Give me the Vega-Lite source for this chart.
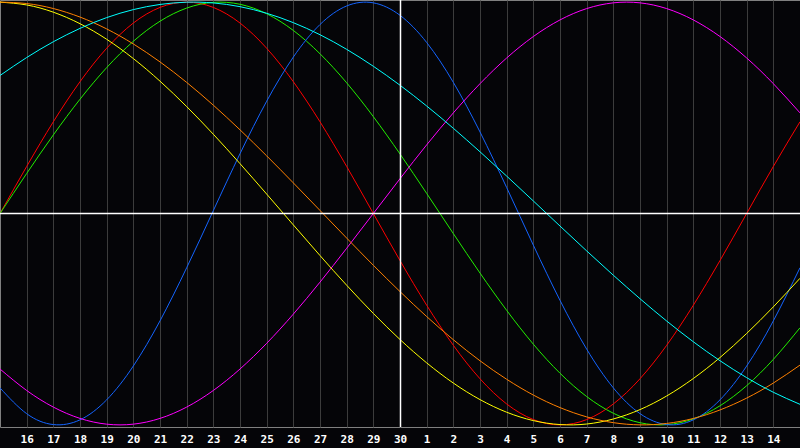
{
"$schema":"https://vega.github.io/schema/vega-lite/v6.json",
"width":800,"height":427,"autosize":{"type":"none"},"padding":{"left":0,"top":0,"right":0,"bottom":21},
"background":"#050508",
"config":{"view":{"stroke":"#808080","strokeWidth":1,"fill":"#050508"},"axis":{"labelOverlap":false,"labelSeparation":0}},
"datasets":{
"curves":[
{"s":"emotional","t":0,"v":0},{"s":"emotional","t":1,"v":0.2225},{"s":"emotional","t":2,"v":0.4339},{"s":"emotional","t":3,"v":0.6235},{"s":"emotional","t":4,"v":0.7818},{"s":"emotional","t":5,"v":0.901},{"s":"emotional","t":6,"v":0.9749},{"s":"emotional","t":7,"v":1},{"s":"emotional","t":8,"v":0.9749},{"s":"emotional","t":9,"v":0.901},{"s":"emotional","t":10,"v":0.7818},{"s":"emotional","t":11,"v":0.6235},{"s":"emotional","t":12,"v":0.4339},{"s":"emotional","t":13,"v":0.2225},{"s":"emotional","t":14,"v":0},{"s":"emotional","t":15,"v":-0.2225},{"s":"emotional","t":16,"v":-0.4339},{"s":"emotional","t":17,"v":-0.6235},{"s":"emotional","t":18,"v":-0.7818},{"s":"emotional","t":19,"v":-0.901},{"s":"emotional","t":20,"v":-0.9749},{"s":"emotional","t":21,"v":-1},{"s":"emotional","t":22,"v":-0.9749},{"s":"emotional","t":23,"v":-0.901},{"s":"emotional","t":24,"v":-0.7818},{"s":"emotional","t":25,"v":-0.6235},{"s":"emotional","t":26,"v":-0.4339},{"s":"emotional","t":27,"v":-0.2225},{"s":"emotional","t":28,"v":0},{"s":"emotional","t":29,"v":0.2225},{"s":"emotional","t":30,"v":0.4339},
{"s":"intellectual","t":0,"v":0},{"s":"intellectual","t":1,"v":0.1893},{"s":"intellectual","t":2,"v":0.3717},{"s":"intellectual","t":3,"v":0.5406},{"s":"intellectual","t":4,"v":0.6901},{"s":"intellectual","t":5,"v":0.8146},{"s":"intellectual","t":6,"v":0.9096},{"s":"intellectual","t":7,"v":0.9718},{"s":"intellectual","t":8,"v":0.9989},{"s":"intellectual","t":9,"v":0.9898},{"s":"intellectual","t":10,"v":0.945},{"s":"intellectual","t":11,"v":0.866},{"s":"intellectual","t":12,"v":0.7557},{"s":"intellectual","t":13,"v":0.6182},{"s":"intellectual","t":14,"v":0.4582},{"s":"intellectual","t":15,"v":0.2817},{"s":"intellectual","t":16,"v":0.095},{"s":"intellectual","t":17,"v":-0.095},{"s":"intellectual","t":18,"v":-0.2817},{"s":"intellectual","t":19,"v":-0.4582},{"s":"intellectual","t":20,"v":-0.6182},{"s":"intellectual","t":21,"v":-0.7557},{"s":"intellectual","t":22,"v":-0.866},{"s":"intellectual","t":23,"v":-0.945},{"s":"intellectual","t":24,"v":-0.9898},{"s":"intellectual","t":25,"v":-0.9989},{"s":"intellectual","t":26,"v":-0.9718},{"s":"intellectual","t":27,"v":-0.9096},{"s":"intellectual","t":28,"v":-0.8146},{"s":"intellectual","t":29,"v":-0.6901},{"s":"intellectual","t":30,"v":-0.5406},
{"s":"physical","t":0,"v":-0.825},{"s":"physical","t":1,"v":-0.947},{"s":"physical","t":2,"v":-0.9985},{"s":"physical","t":3,"v":-0.9762},{"s":"physical","t":4,"v":-0.8815},{"s":"physical","t":5,"v":-0.7215},{"s":"physical","t":6,"v":-0.5079},{"s":"physical","t":7,"v":-0.2566},{"s":"physical","t":8,"v":0.0137},{"s":"physical","t":9,"v":0.2829},{"s":"physical","t":10,"v":0.5312},{"s":"physical","t":11,"v":0.74},{"s":"physical","t":12,"v":0.8941},{"s":"physical","t":13,"v":0.9818},{"s":"physical","t":14,"v":0.9966},{"s":"physical","t":15,"v":0.9376},{"s":"physical","t":16,"v":0.809},{"s":"physical","t":17,"v":0.6204},{"s":"physical","t":18,"v":0.3859},{"s":"physical","t":19,"v":0.1227},{"s":"physical","t":20,"v":-0.1497},{"s":"physical","t":21,"v":-0.4109},{"s":"physical","t":22,"v":-0.6416},{"s":"physical","t":23,"v":-0.8249},{"s":"physical","t":24,"v":-0.9467},{"s":"physical","t":25,"v":-0.9985},{"s":"physical","t":26,"v":-0.9762},{"s":"physical","t":27,"v":-0.8815},{"s":"physical","t":28,"v":-0.7216},{"s":"physical","t":29,"v":-0.508},{"s":"physical","t":30,"v":-0.2566},
{"s":"intuitive","t":0,"v":-0.7357},{"s":"intuitive","t":1,"v":-0.8372},{"s":"intuitive","t":2,"v":-0.9158},{"s":"intuitive","t":3,"v":-0.9694},{"s":"intuitive","t":4,"v":-0.9966},{"s":"intuitive","t":5,"v":-0.9966},{"s":"intuitive","t":6,"v":-0.9694},{"s":"intuitive","t":7,"v":-0.9158},{"s":"intuitive","t":8,"v":-0.8372},{"s":"intuitive","t":9,"v":-0.7357},{"s":"intuitive","t":10,"v":-0.6142},{"s":"intuitive","t":11,"v":-0.4759},{"s":"intuitive","t":12,"v":-0.3247},{"s":"intuitive","t":13,"v":-0.1646},{"s":"intuitive","t":14,"v":0},{"s":"intuitive","t":15,"v":0.1646},{"s":"intuitive","t":16,"v":0.3247},{"s":"intuitive","t":17,"v":0.4759},{"s":"intuitive","t":18,"v":0.6142},{"s":"intuitive","t":19,"v":0.7357},{"s":"intuitive","t":20,"v":0.8372},{"s":"intuitive","t":21,"v":0.9158},{"s":"intuitive","t":22,"v":0.9694},{"s":"intuitive","t":23,"v":0.9966},{"s":"intuitive","t":24,"v":0.9966},{"s":"intuitive","t":25,"v":0.9694},{"s":"intuitive","t":26,"v":0.9158},{"s":"intuitive","t":27,"v":0.8372},{"s":"intuitive","t":28,"v":0.7357},{"s":"intuitive","t":29,"v":0.6142},{"s":"intuitive","t":30,"v":0.4759},
{"s":"aesthetic","t":0,"v":0.9998},{"s":"aesthetic","t":1,"v":0.9866},{"s":"aesthetic","t":2,"v":0.9524},{"s":"aesthetic","t":3,"v":0.8979},{"s":"aesthetic","t":4,"v":0.8242},{"s":"aesthetic","t":5,"v":0.733},{"s":"aesthetic","t":6,"v":0.626},{"s":"aesthetic","t":7,"v":0.5058},{"s":"aesthetic","t":8,"v":0.3749},{"s":"aesthetic","t":9,"v":0.2359},{"s":"aesthetic","t":10,"v":0.0919},{"s":"aesthetic","t":11,"v":-0.054},{"s":"aesthetic","t":12,"v":-0.1989},{"s":"aesthetic","t":13,"v":-0.3394},{"s":"aesthetic","t":14,"v":-0.4727},{"s":"aesthetic","t":15,"v":-0.5961},{"s":"aesthetic","t":16,"v":-0.7066},{"s":"aesthetic","t":17,"v":-0.8021},{"s":"aesthetic","t":18,"v":-0.8804},{"s":"aesthetic","t":19,"v":-0.9401},{"s":"aesthetic","t":20,"v":-0.9797},{"s":"aesthetic","t":21,"v":-0.9985},{"s":"aesthetic","t":22,"v":-0.9959},{"s":"aesthetic","t":23,"v":-0.9721},{"s":"aesthetic","t":24,"v":-0.9277},{"s":"aesthetic","t":25,"v":-0.8633},{"s":"aesthetic","t":26,"v":-0.7806},{"s":"aesthetic","t":27,"v":-0.6814},{"s":"aesthetic","t":28,"v":-0.5674},{"s":"aesthetic","t":29,"v":-0.4417},{"s":"aesthetic","t":30,"v":-0.3064},
{"s":"awareness","t":0,"v":0.9999},{"s":"awareness","t":1,"v":0.9932},{"s":"awareness","t":2,"v":0.9696},{"s":"awareness","t":3,"v":0.9293},{"s":"awareness","t":4,"v":0.8732},{"s":"awareness","t":5,"v":0.8021},{"s":"awareness","t":6,"v":0.7172},{"s":"awareness","t":7,"v":0.6202},{"s":"awareness","t":8,"v":0.5124},{"s":"awareness","t":9,"v":0.3959},{"s":"awareness","t":10,"v":0.2727},{"s":"awareness","t":11,"v":0.1448},{"s":"awareness","t":12,"v":0.0144},{"s":"awareness","t":13,"v":-0.1162},{"s":"awareness","t":14,"v":-0.2449},{"s":"awareness","t":15,"v":-0.3693},{"s":"awareness","t":16,"v":-0.4875},{"s":"awareness","t":17,"v":-0.5972},{"s":"awareness","t":18,"v":-0.6967},{"s":"awareness","t":19,"v":-0.7842},{"s":"awareness","t":20,"v":-0.8589},{"s":"awareness","t":21,"v":-0.9182},{"s":"awareness","t":22,"v":-0.9621},{"s":"awareness","t":23,"v":-0.9895},{"s":"awareness","t":24,"v":-0.9999},{"s":"awareness","t":25,"v":-0.9932},{"s":"awareness","t":26,"v":-0.9696},{"s":"awareness","t":27,"v":-0.9293},{"s":"awareness","t":28,"v":-0.8732},{"s":"awareness","t":29,"v":-0.8021},{"s":"awareness","t":30,"v":-0.7172},
{"s":"spiritual","t":0,"v":0.6529},{"s":"spiritual","t":1,"v":0.7378},{"s":"spiritual","t":2,"v":0.8125},{"s":"spiritual","t":3,"v":0.8757},{"s":"spiritual","t":4,"v":0.9267},{"s":"spiritual","t":5,"v":0.9646},{"s":"spiritual","t":6,"v":0.989},{"s":"spiritual","t":7,"v":0.9996},{"s":"spiritual","t":8,"v":0.9961},{"s":"spiritual","t":9,"v":0.9785},{"s":"spiritual","t":10,"v":0.9473},{"s":"spiritual","t":11,"v":0.9028},{"s":"spiritual","t":12,"v":0.8457},{"s":"spiritual","t":13,"v":0.7766},{"s":"spiritual","t":14,"v":0.6965},{"s":"spiritual","t":15,"v":0.6068},{"s":"spiritual","t":16,"v":0.5086},{"s":"spiritual","t":17,"v":0.4031},{"s":"spiritual","t":18,"v":0.292},{"s":"spiritual","t":19,"v":0.1769},{"s":"spiritual","t":20,"v":0.0593},{"s":"spiritual","t":21,"v":-0.0593},{"s":"spiritual","t":22,"v":-0.1769},{"s":"spiritual","t":23,"v":-0.292},{"s":"spiritual","t":24,"v":-0.4031},{"s":"spiritual","t":25,"v":-0.5086},{"s":"spiritual","t":26,"v":-0.6068},{"s":"spiritual","t":27,"v":-0.6965},{"s":"spiritual","t":28,"v":-0.7766},{"s":"spiritual","t":29,"v":-0.8457},{"s":"spiritual","t":30,"v":-0.9028}
]},
"layer":[
{"data":{"name":"curves"},
 "mark":{"type":"line","strokeWidth":1,"interpolate":"natural","clip":true},
 "encoding":{
  "x":{"field":"t","type":"quantitative","scale":{"domain":[0,30],"nice":false,"zero":false},
   "axis":{"title":null,"values":[1,2,3,4,5,6,7,8,9,10,11,12,13,14,15,16,17,18,19,20,21,22,23,24,25,26,27,28,29],
    "labelExpr":"datum.value <= 15 ? datum.value + 15 : datum.value - 15",
    "grid":true,"gridColor":"#3c3c3c","gridWidth":1,"gridOpacity":1,"ticks":false,"domain":false,
    "labelColor":"#ffffff","labelFont":"DejaVu Sans Mono","labelFontWeight":"bold","labelFontSize":11,
    "labelPadding":6,"labelFlush":false,"labelOverlap":false,"labelSeparation":0,"labelBound":false}},
  "y":{"field":"v","type":"quantitative","scale":{"domain":[-1.01,1.01],"nice":false,"zero":false},"axis":null},
  "color":{"field":"s","type":"nominal","legend":null,
   "scale":{"domain":["physical","emotional","intellectual","intuitive","aesthetic","awareness","spiritual"],
    "range":["#1464ff","#ff0000","#22ee00","#ff00ff","#ffff00","#ff8000","#00ffff"]}}
 }},
{"data":{"values":[{"v":0}]},"mark":{"type":"rule","color":"#ffffff","strokeWidth":1.5},"encoding":{"y":{"field":"v","type":"quantitative","axis":null}}},
{"data":{"values":[{"t":15}]},"mark":{"type":"rule","color":"#ffffff","strokeWidth":1.5,"xOffset":0.5},
 "encoding":{"x":{"field":"t","type":"quantitative",
   "axis":{"title":null,"values":[1,2,3,4,5,6,7,8,9,10,11,12,13,14,15,16,17,18,19,20,21,22,23,24,25,26,27,28,29],
    "labelExpr":"datum.value <= 15 ? datum.value + 15 : datum.value - 15",
    "grid":true,"gridColor":"#3c3c3c","gridWidth":1,"gridOpacity":1,"ticks":false,"domain":false,
    "labelColor":"#ffffff","labelFont":"DejaVu Sans Mono","labelFontWeight":"bold","labelFontSize":11,
    "labelPadding":6,"labelFlush":false,"labelOverlap":false,"labelSeparation":0,"labelBound":false}}}}
]
}
